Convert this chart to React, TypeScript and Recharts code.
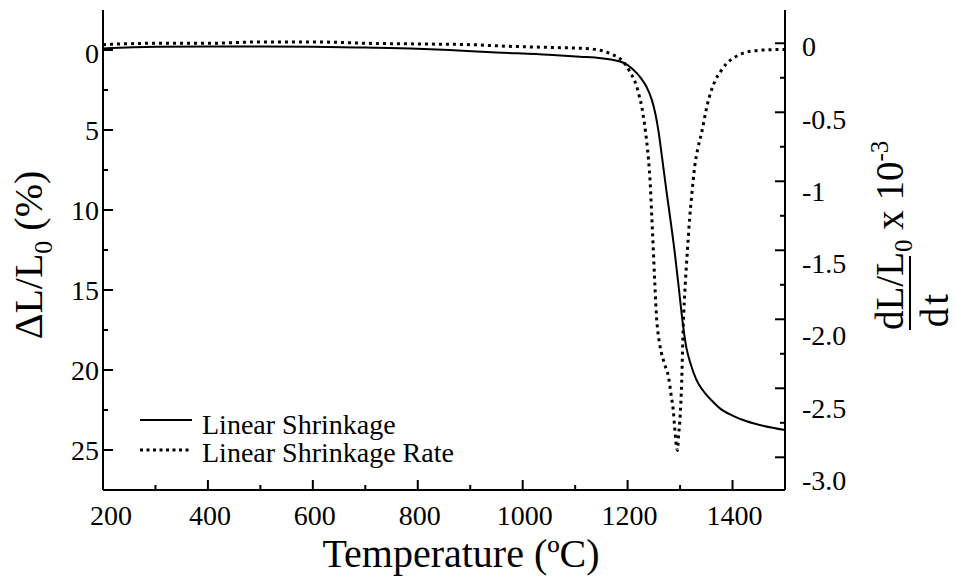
import React from "react";
import { LineChart, Line, XAxis, YAxis } from "recharts";

const FONT = "'Liberation Serif', 'Times New Roman', serif";

const seriesNames = ["Linear Shrinkage", "Linear Shrinkage Rate"];

// Linear shrinkage (%), left axis
const shrinkT = [200, 300, 400, 500, 600, 700, 800, 860, 950, 1050, 1109, 1150, 1192, 1210, 1224, 1236, 1246, 1253, 1259, 1266, 1274, 1282, 1290, 1298, 1306, 1312, 1319, 1331, 1344, 1363, 1376, 1400, 1427, 1460, 1500];
const shrinkV = [-0.1, -0.2, -0.22, -0.22, -0.2, -0.15, -0.08, 0, 0.15, 0.3, 0.42, 0.52, 0.8, 1.2, 1.7, 2.3, 3.1, 4.0, 5.1, 6.8, 8.8, 10.7, 12.7, 15.0, 17.3, 18.6, 19.5, 20.6, 21.3, 22.0, 22.4, 22.85, 23.2, 23.5, 23.75];

// Linear shrinkage rate (dL/L0/dt x 10^-3), right axis
const rateT = [200, 300, 400, 500, 600, 700, 800, 900, 960, 1050, 1109, 1147, 1170, 1185, 1197, 1205, 1212, 1217, 1222, 1227, 1232, 1236, 1240, 1243, 1246, 1249, 1252, 1255, 1258, 1262, 1270, 1278, 1283, 1287, 1290, 1293, 1295, 1297, 1300, 1303, 1306, 1310, 1314, 1318, 1322, 1328, 1334, 1341, 1351, 1358, 1367, 1378, 1389, 1405, 1420, 1440, 1465, 1500];
const rateV = [-0.01, 0.0, 0.0, 0.01, 0.01, 0.0, -0.005, -0.01, -0.02, -0.03, -0.036, -0.05, -0.08, -0.11, -0.16, -0.21, -0.26, -0.31, -0.38, -0.46, -0.58, -0.7, -0.85, -1.01, -1.25, -1.5, -1.75, -1.98, -2.1, -2.2, -2.32, -2.42, -2.55, -2.66, -2.8, -2.92, -2.95, -2.85, -2.71, -2.46, -2.05, -1.74, -1.5, -1.28, -1.11, -0.89, -0.76, -0.65, -0.46, -0.36, -0.27, -0.2, -0.145, -0.1, -0.072, -0.055, -0.048, -0.045];

const xTicks = [200, 300, 400, 500, 600, 700, 800, 900, 1000, 1100, 1200, 1300, 1400, 1500];
const xLabels = [200, 400, 600, 800, 1000, 1200, 1400];
const leftTicks = [0, 2.5, 5, 7.5, 10, 12.5, 15, 17.5, 20, 22.5, 25];
const leftLabels = [0, 5, 10, 15, 20, 25];
const rightTicks = [0, -0.25, -0.5, -0.75, -1, -1.25, -1.5, -1.75, -2, -2.25, -2.5, -2.75, -3];
const rightLabelValues = [0, -0.5, -1, -1.5, -2, -2.5, -3];
const rightLabelTexts = ["0", "-0.5", "-1", "-1.5", "-2.0", "-2.5", "-3.0"];

const shrinkData = shrinkT.map((t, i) => ({ T: t, v: shrinkV[i] }));
const rateData = rateT.map((t, i) => ({ T: t, v: rateV[i] }));

const BottomTick = (props: any) => {
  const { x, y, payload } = props;
  const v = payload.value;
  const major = xLabels.includes(v);
  return (
    <g>
      <line x1={x} y1={y} x2={x} y2={y - (major ? 10 : 5)} stroke="#000" strokeWidth={2} />
      {major && (
        <text x={v === 200 ? x + 8 : x + 2} y={y + 35} textAnchor="middle" fontSize={28} fontFamily={FONT} fill="#000">
          {v}
        </text>
      )}
    </g>
  );
};

const TopTick = (props: any) => {
  const { x, y, payload } = props;
  const major = xLabels.includes(payload.value);
  return <line x1={x} y1={y} x2={x} y2={y + (major ? 10 : 5)} stroke="#000" strokeWidth={2} />;
};

const LeftTick = (props: any) => {
  const { x, y, payload } = props;
  const v = payload.value;
  const major = leftLabels.includes(v);
  return (
    <g>
      <line x1={x} y1={y} x2={x + (major ? 10 : 5)} y2={y} stroke="#000" strokeWidth={2} />
      {major && (
        <text x={x - 4} y={y + 10 + (v === 0 ? 3 : 0)} textAnchor="end" fontSize={28} fontFamily={FONT} fill="#000">
          {v}
        </text>
      )}
    </g>
  );
};

const RightTick = (props: any) => {
  const { x, y, payload } = props;
  const v = payload.value;
  const idx = rightLabelValues.indexOf(v);
  const major = idx >= 0;
  return (
    <g>
      <line x1={x} y1={y} x2={x - (major ? 10 : 5)} y2={y} stroke="#000" strokeWidth={2} />
      {major && (
        <text x={x + 17} y={y + 13 - v * 6.6} textAnchor="start" fontSize={28} fontFamily={FONT} fill="#000">
          {rightLabelTexts[idx]}
        </text>
      )}
    </g>
  );
};

export default function App() {
  return (
    <div style={{ position: "absolute", left: 0, top: 0, width: 956, height: 577, background: "#fff" }}>
      <LineChart width={956} height={577} margin={{ top: 10, right: 0, bottom: 0, left: 0 }}>
        <XAxis
          xAxisId="bottom"
          dataKey="T"
          type="number"
          domain={[200, 1500]}
          ticks={xTicks}
          interval={0}
          allowDataOverflow
          height={87}
          tickSize={0}
          tickMargin={0}
          tickLine={false}
          tick={<BottomTick />}
          axisLine={{ stroke: "#000", strokeWidth: 2 }}
        />
        <XAxis
          xAxisId="top"
          orientation="top"
          dataKey="T"
          type="number"
          domain={[200, 1500]}
          ticks={xTicks}
          interval={0}
          allowDataOverflow
          height={0}
          tickSize={0}
          tickMargin={0}
          tickLine={false}
          tick={<TopTick />}
          axisLine={{ stroke: "#000", strokeWidth: 2 }}
        />
        <YAxis
          yAxisId="left"
          type="number"
          reversed
          domain={[-2.5, 27.5]}
          ticks={leftTicks}
          interval={0}
          allowDataOverflow
          width={103}
          tickSize={0}
          tickMargin={0}
          tickLine={false}
          tick={<LeftTick />}
          axisLine={{ stroke: "#000", strokeWidth: 2 }}
        />
        <YAxis
          yAxisId="right"
          orientation="right"
          type="number"
          domain={[-3.237, 0.241]}
          ticks={rightTicks}
          interval={0}
          allowDataOverflow
          width={171}
          tickSize={0}
          tickMargin={0}
          tickLine={false}
          tick={<RightTick />}
          axisLine={{ stroke: "#000", strokeWidth: 2 }}
        />
        <Line
          xAxisId="bottom"
          yAxisId="left"
          data={shrinkData}
          dataKey="v"
          name={seriesNames[0]}
          type="monotone"
          stroke="#000"
          strokeWidth={2}
          dot={false}
          isAnimationActive={false}
        />
        <Line
          xAxisId="bottom"
          yAxisId="right"
          data={rateData}
          dataKey="v"
          name={seriesNames[1]}
          type="monotone"
          stroke="#000"
          strokeWidth={3}
          strokeDasharray="3 4"
          dot={false}
          isAnimationActive={false}
        />
      </LineChart>
      <svg
        width={956}
        height={577}
        style={{ position: "absolute", left: 0, top: 0, pointerEvents: "none" }}
        fontFamily={FONT}
      >
        {/* legend */}
        <line x1={140} y1={420} x2={192} y2={420} stroke="#000" strokeWidth={2} />
        <text x={202} y={434} fontSize={28} fill="#000">{seriesNames[0]}</text>
        <line x1={140} y1={450} x2={192} y2={450} stroke="#000" strokeWidth={3} strokeDasharray="3 3.5" />
        <text x={202} y={462} fontSize={28} fill="#000">{seriesNames[1]}</text>

        {/* x title */}
        <text x={461} y={567} textAnchor="middle" fontSize={40} fill="#000">Temperature (ºC)</text>

        {/* left title */}
        <text x={42} y={255} textAnchor="middle" fontSize={40} fill="#000" transform="rotate(-90 42 255)">
          ΔL/L<tspan dy={10} fontSize={26}>0</tspan><tspan dy={-10}> (%)</tspan>
        </text>

        {/* right title */}
        <text x={903} y={330} textAnchor="start" fontSize={39} fill="#000" transform="rotate(-90 903 330)">
          dL/L<tspan dy={9} fontSize={25}>0</tspan><tspan dy={-9}> x 10</tspan><tspan dy={-15} fontSize={25}>-3</tspan>
        </text>
        <line x1={910} y1={256} x2={910} y2={330} stroke="#000" strokeWidth={2} />
        <text x={948} y={309} textAnchor="middle" fontSize={39} letterSpacing={3} fill="#000" transform="rotate(-90 948 309)">
          dt
        </text>
      </svg>
    </div>
  );
}
